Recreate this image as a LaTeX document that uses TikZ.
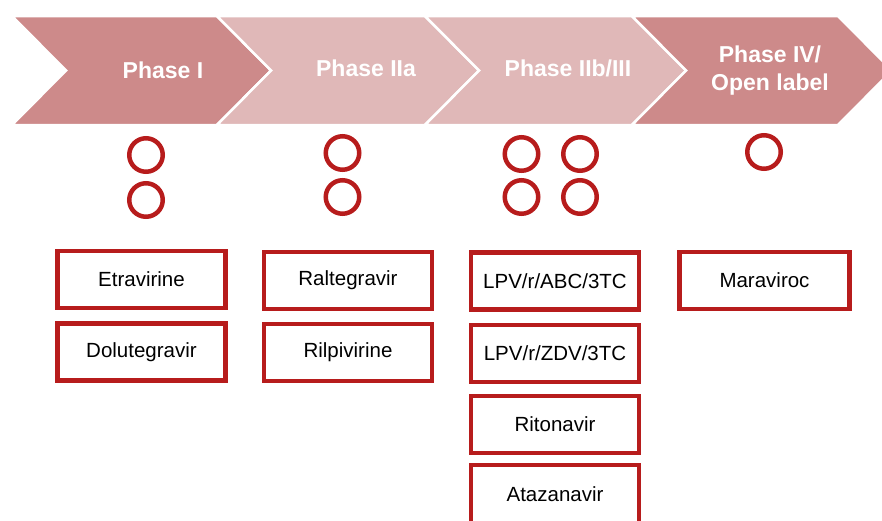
\documentclass[tikz,border=0pt]{standalone}
\usepackage{fontspec}
\setmainfont{Liberation Sans}
\definecolor{darkrose}{RGB}{205,138,138}
\definecolor{lightrose}{RGB}{224,184,184}
\definecolor{ringred}{RGB}{183,28,28}
\tikzset{
  phase/.style={text=white,font=\fontsize{23}{27}\selectfont\bfseries,align=center},
  ring/.style={circle,draw=ringred,line width=4.5pt,minimum size=33.5pt,inner sep=0pt},
  drug/.style={draw=ringred,line width=4.8pt,fill=white,minimum width=168pt,minimum height=57pt,
    inner sep=0pt,font=\fontsize{20.5}{24}\selectfont}
}
\begin{document}
\begin{tikzpicture}[x=1pt,y=-1pt]
    \useasboundingbox (0,0) rectangle (882,520);
    \clip (0,0) rectangle (882,520);
    % chevrons
    \foreach \l/\r/\c in {12/217/darkrose,217/425/lightrose,425/632/lightrose,632/838/darkrose}{
    \filldraw[fill=\c,draw=white,line width=2.5pt,line join=miter]
    (\l,16) -- (\r,16) -- (\r+54,70.5) -- (\r,125) -- (\l,125) -- (\l+54,70.5) -- cycle;}
    \node[phase] (p1) at (163,70) {Phase I};
    \node[phase] (p2) at (366,68) {Phase IIa};
    \node[phase] (p3) at (568,68) {Phase IIb/III};
    \node[phase] (p4) at (770,71) {Phase IV/\\[1pt]Open label};
    % rings
    \foreach \x/\y/\n in {146/155/11,146/200/12,342.5/153/21,342.5/197/22,
    521.5/154/31,521.5/197/32,580/154/33,580/197/34,764/152/41}
    \node[ring] (r\n) at (\x,\y) {};
    % drugs
    \node[drug] (d11) at (141.5,279.5) {Etravirine};
    \node[drug] (d12) at (141.5,352) {Dolutegravir};
    \node[drug] (d21) at (348,280.5) {Raltegravir};
    \node[drug] (d22) at (348,352.5) {Rilpivirine};
    \node[drug] (d31) at (555,281) {LPV/r/ABC/3TC};
    \node[drug] (d32) at (555,353.5) {LPV/r/ZDV/3TC};
    \node[drug] (d33) at (555,424.5) {Ritonavir};
    \node[drug,minimum height=58pt] (d34) at (555,494) {Atazanavir};
    \node[drug,minimum width=170pt] (d41) at (764.5,280.5) {Maraviroc};
\end{tikzpicture}
\end{document}
